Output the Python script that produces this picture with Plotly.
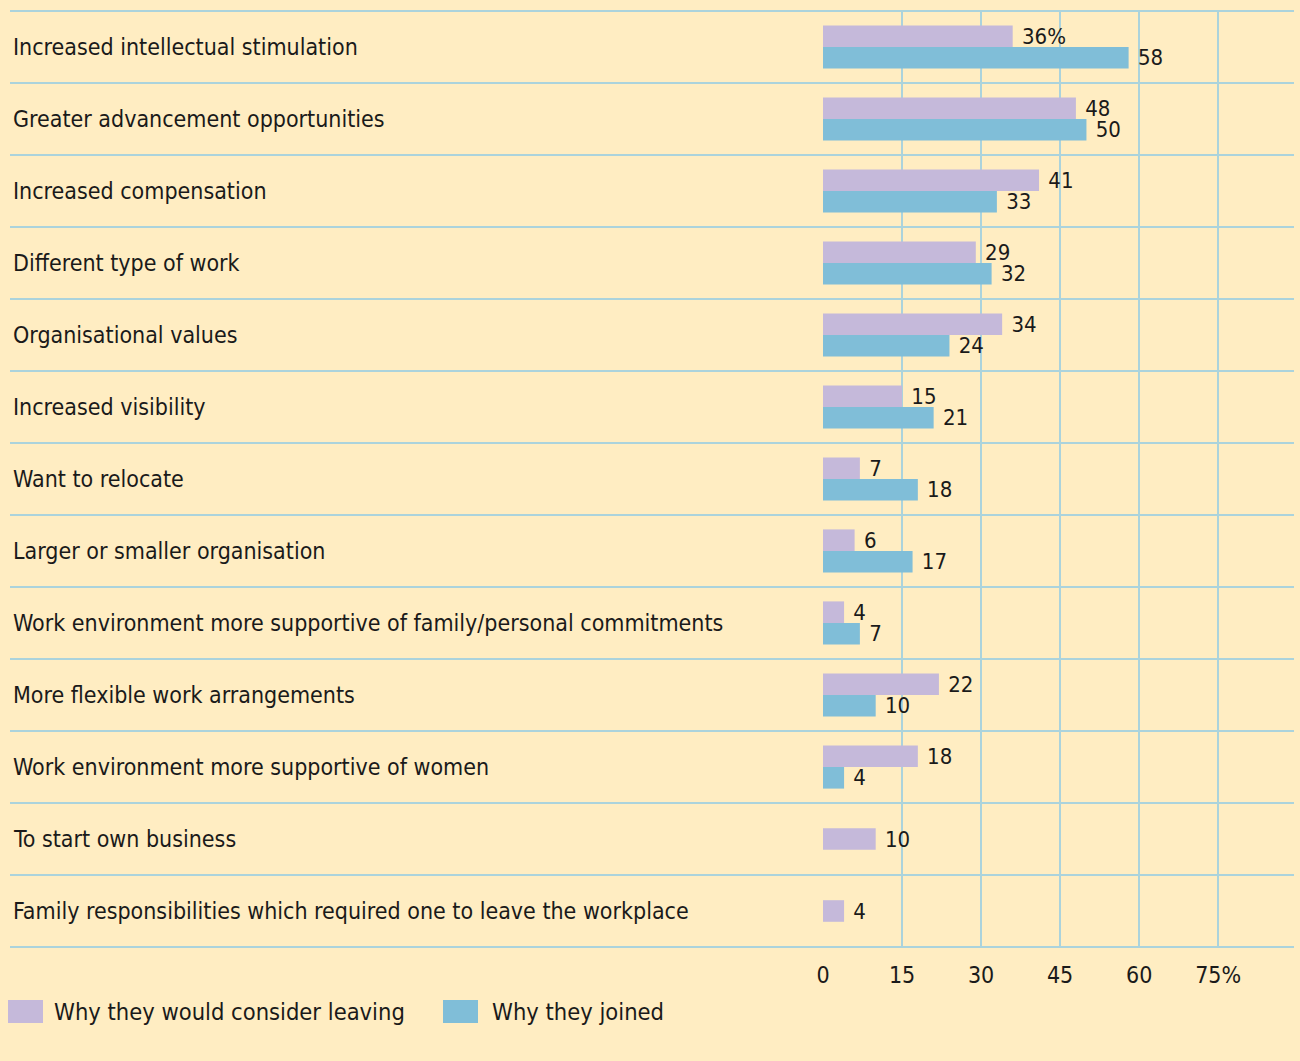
import plotly.graph_objects as go

categories = [
    "Increased intellectual stimulation",
    "Greater advancement opportunities",
    "Increased compensation",
    "Different type of work",
    "Organisational values",
    "Increased visibility",
    "Want to relocate",
    "Larger or smaller organisation",
    "Work environment more supportive of family/personal commitments",
    "More flexible work arrangements",
    "Work environment more supportive of women",
    "To start own business",
    "Family responsibilities which required one to leave the workplace",
]
leaving = [36, 48, 41, 29, 34, 15, 7, 6, 4, 22, 18, 10, 4]
joined = [58, 50, 33, 32, 24, 21, 18, 17, 7, 10, 4, None, None]
tick_vals = [0, 15, 30, 45, 60, 75]
tick_text = ["0", "15", "30", "45", "60", "75%"]
series_names = ["Why they would consider leaving", "Why they joined"]

BG = "#FFEDC2"
LAV = "#C5B9DA"
BLUE = "#80BED8"
GRID = "#ABD3DC"
TXT = "#1A1A1A"
FONT = "DejaVu Sans Condensed, Liberation Sans Narrow, Liberation Sans, sans-serif"

W, H = 1300, 1061
ML, MR, MT, MB = 823, 7, 11, 114
PW = W - ML - MR
PH = H - MT - MB

def px_x(p):
    return (p - ML) / PW

def px_y(q):
    return (H - MB - q) / PH

n = len(categories)
ypos = list(range(n))
bw = 0.3
lav_off = [-bw if j is not None else -bw / 2 for j in joined]
lav_text = ["\u00a0" + (f"{v}%" if i == 0 else str(v)) for i, v in enumerate(leaving)]
blue_text = ["" if v is None else "\u00a0" + str(v) for v in joined]

fig = go.Figure()
fig.add_trace(go.Bar(
    y=ypos, x=leaving, orientation="h", name=series_names[0],
    marker=dict(color=LAV, line=dict(width=0)),
    width=bw, offset=lav_off,
    text=lav_text, textposition="outside", cliponaxis=False, constraintext="none",
    textfont=dict(family=FONT, size=22, color=TXT),
))
fig.add_trace(go.Bar(
    y=ypos, x=joined, orientation="h", name=series_names[1],
    marker=dict(color=BLUE, line=dict(width=0)),
    width=bw, offset=0,
    text=blue_text, textposition="outside", cliponaxis=False, constraintext="none",
    textfont=dict(family=FONT, size=22, color=TXT),
))

shapes = []
annotations = []
for i in range(n + 1):
    yy = 1 - i / n
    shapes.append(dict(type="line", xref="paper", yref="paper",
                       x0=px_x(10), x1=px_x(1294), y0=yy, y1=yy,
                       line=dict(color=GRID, width=2), layer="above"))
for i, c in enumerate(categories):
    annotations.append(dict(xref="paper", yref="paper", x=px_x(11),
                            y=1 - (i + 0.5) / n, text=c, showarrow=False,
                            xanchor="left", yanchor="middle",
                            font=dict(family=FONT, size=23, color=TXT)))
leg = [(8, LAV, 52, series_names[0]), (443, BLUE, 490, series_names[1])]
for x0, col, tx, name in leg:
    shapes.append(dict(type="rect", xref="paper", yref="paper",
                       x0=px_x(x0), x1=px_x(x0 + 35), y0=px_y(1023), y1=px_y(1000),
                       fillcolor=col, line=dict(width=0)))
    annotations.append(dict(xref="paper", yref="paper", x=px_x(tx), y=px_y(1012),
                            text=name, showarrow=False, xanchor="left", yanchor="middle",
                            font=dict(family=FONT, size=23.5, color=TXT)))

fig.update_layout(
    width=W, height=H,
    margin=dict(l=ML, r=MR, t=MT, b=MB),
    paper_bgcolor=BG, plot_bgcolor=BG,
    barmode="overlay", showlegend=False,
    shapes=shapes, annotations=annotations,
    xaxis=dict(range=[0, 89.2], tickvals=tick_vals, ticktext=tick_text,
               showgrid=True, gridcolor=GRID, gridwidth=2,
               zeroline=True, zerolinecolor=BG, zerolinewidth=4,
               ticks="outside", ticklen=7, tickcolor="rgba(0,0,0,0)",
               showline=False,
               tickfont=dict(family=FONT, size=23, color=TXT)),
    yaxis=dict(range=[n - 0.5, -0.5], showticklabels=False, showgrid=False,
               zeroline=False, showline=False, ticks=""),
)
fig.write_html("out.html", config={"displayModeBar": False},
               post_script="document.body.style.margin='0';document.body.style.background='" + BG + "';")
